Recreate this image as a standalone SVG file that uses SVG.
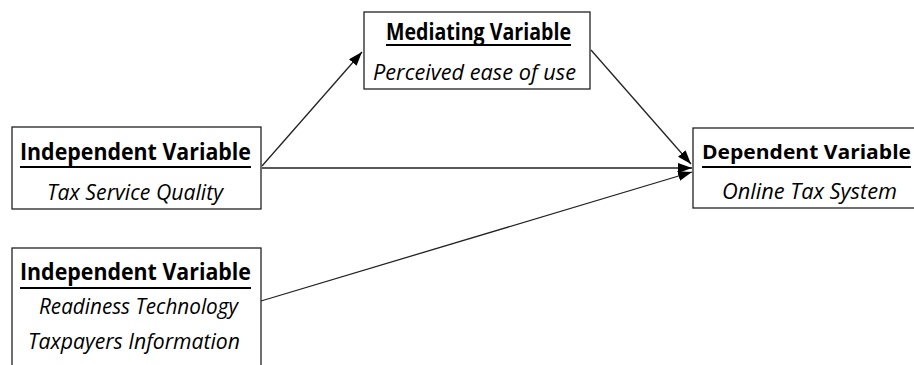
<svg xmlns="http://www.w3.org/2000/svg" width="914" height="365" viewBox="0 0 914 365">
<style>
.box{fill:#fff;stroke:#222;stroke-width:1.3}
.h{font-family:"Open Sans","Liberation Sans",sans-serif;font-weight:bold;font-size:23px;fill:#000;text-anchor:start}
.s{font-family:"Open Sans","Liberation Sans",sans-serif;font-style:italic;font-size:22px;fill:#000;text-anchor:start}
.u{stroke:#000;stroke-width:2}
.c{stroke:#222;stroke-width:1.3;fill:none;marker-end:url(#ah)}
</style>
<defs>
<marker id="ah" viewBox="0 0 14 10" refX="14" refY="5" markerWidth="14" markerHeight="10" markerUnits="userSpaceOnUse" orient="auto">
<path d="M0,0 L14,5 L0,10 Z" fill="#000"/>
</marker>
</defs>
<g id="n-tsq">
<rect class="box" x="12" y="127" width="249" height="82"/>
<text class="h" x="20" y="160" textLength="231" lengthAdjust="spacingAndGlyphs">Independent Variable</text>
<line class="u" x1="20" y1="167" x2="251" y2="167"/>
<text class="s" x="47" y="200" textLength="176" lengthAdjust="spacingAndGlyphs">Tax Service Quality</text>
</g>
<g id="n-rti">
<rect class="box" x="12" y="248" width="249" height="130"/>
<text class="h" x="20" y="280" textLength="231" lengthAdjust="spacingAndGlyphs">Independent Variable</text>
<line class="u" x1="20" y1="288" x2="251" y2="288"/>
<text class="s" x="39" y="314" textLength="199" lengthAdjust="spacingAndGlyphs">Readiness Technology</text>
<text class="s" x="28" y="349" textLength="212" lengthAdjust="spacingAndGlyphs">Taxpayers Information</text>
</g>
<g id="n-med">
<rect class="box" x="364" y="12" width="226" height="77"/>
<text class="h" x="386" y="40" textLength="185" lengthAdjust="spacingAndGlyphs">Mediating Variable</text>
<line class="u" x1="386" y1="45" x2="571" y2="45"/>
<text class="s" x="373" y="80" textLength="203" lengthAdjust="spacingAndGlyphs">Perceived ease of use</text>
</g>
<g id="n-dep">
<rect class="box" x="693" y="128" width="240" height="80"/>
<text class="h" x="702" y="159" style="font-size:20px" textLength="209" lengthAdjust="spacingAndGlyphs">Dependent Variable</text>
<line class="u" x1="702" y1="167" x2="911" y2="167"/>
<text class="s" x="722" y="199" textLength="175" lengthAdjust="spacingAndGlyphs">Online Tax System</text>
</g>
<g id="connectors">
<line class="c" x1="262" y1="166" x2="362" y2="52"/>
<line class="c" x1="262" y1="168" x2="692" y2="168"/>
<line class="c" x1="591" y1="50" x2="691" y2="164"/>
<line class="c" x1="261" y1="301" x2="692" y2="172"/>
</g>
</svg>
